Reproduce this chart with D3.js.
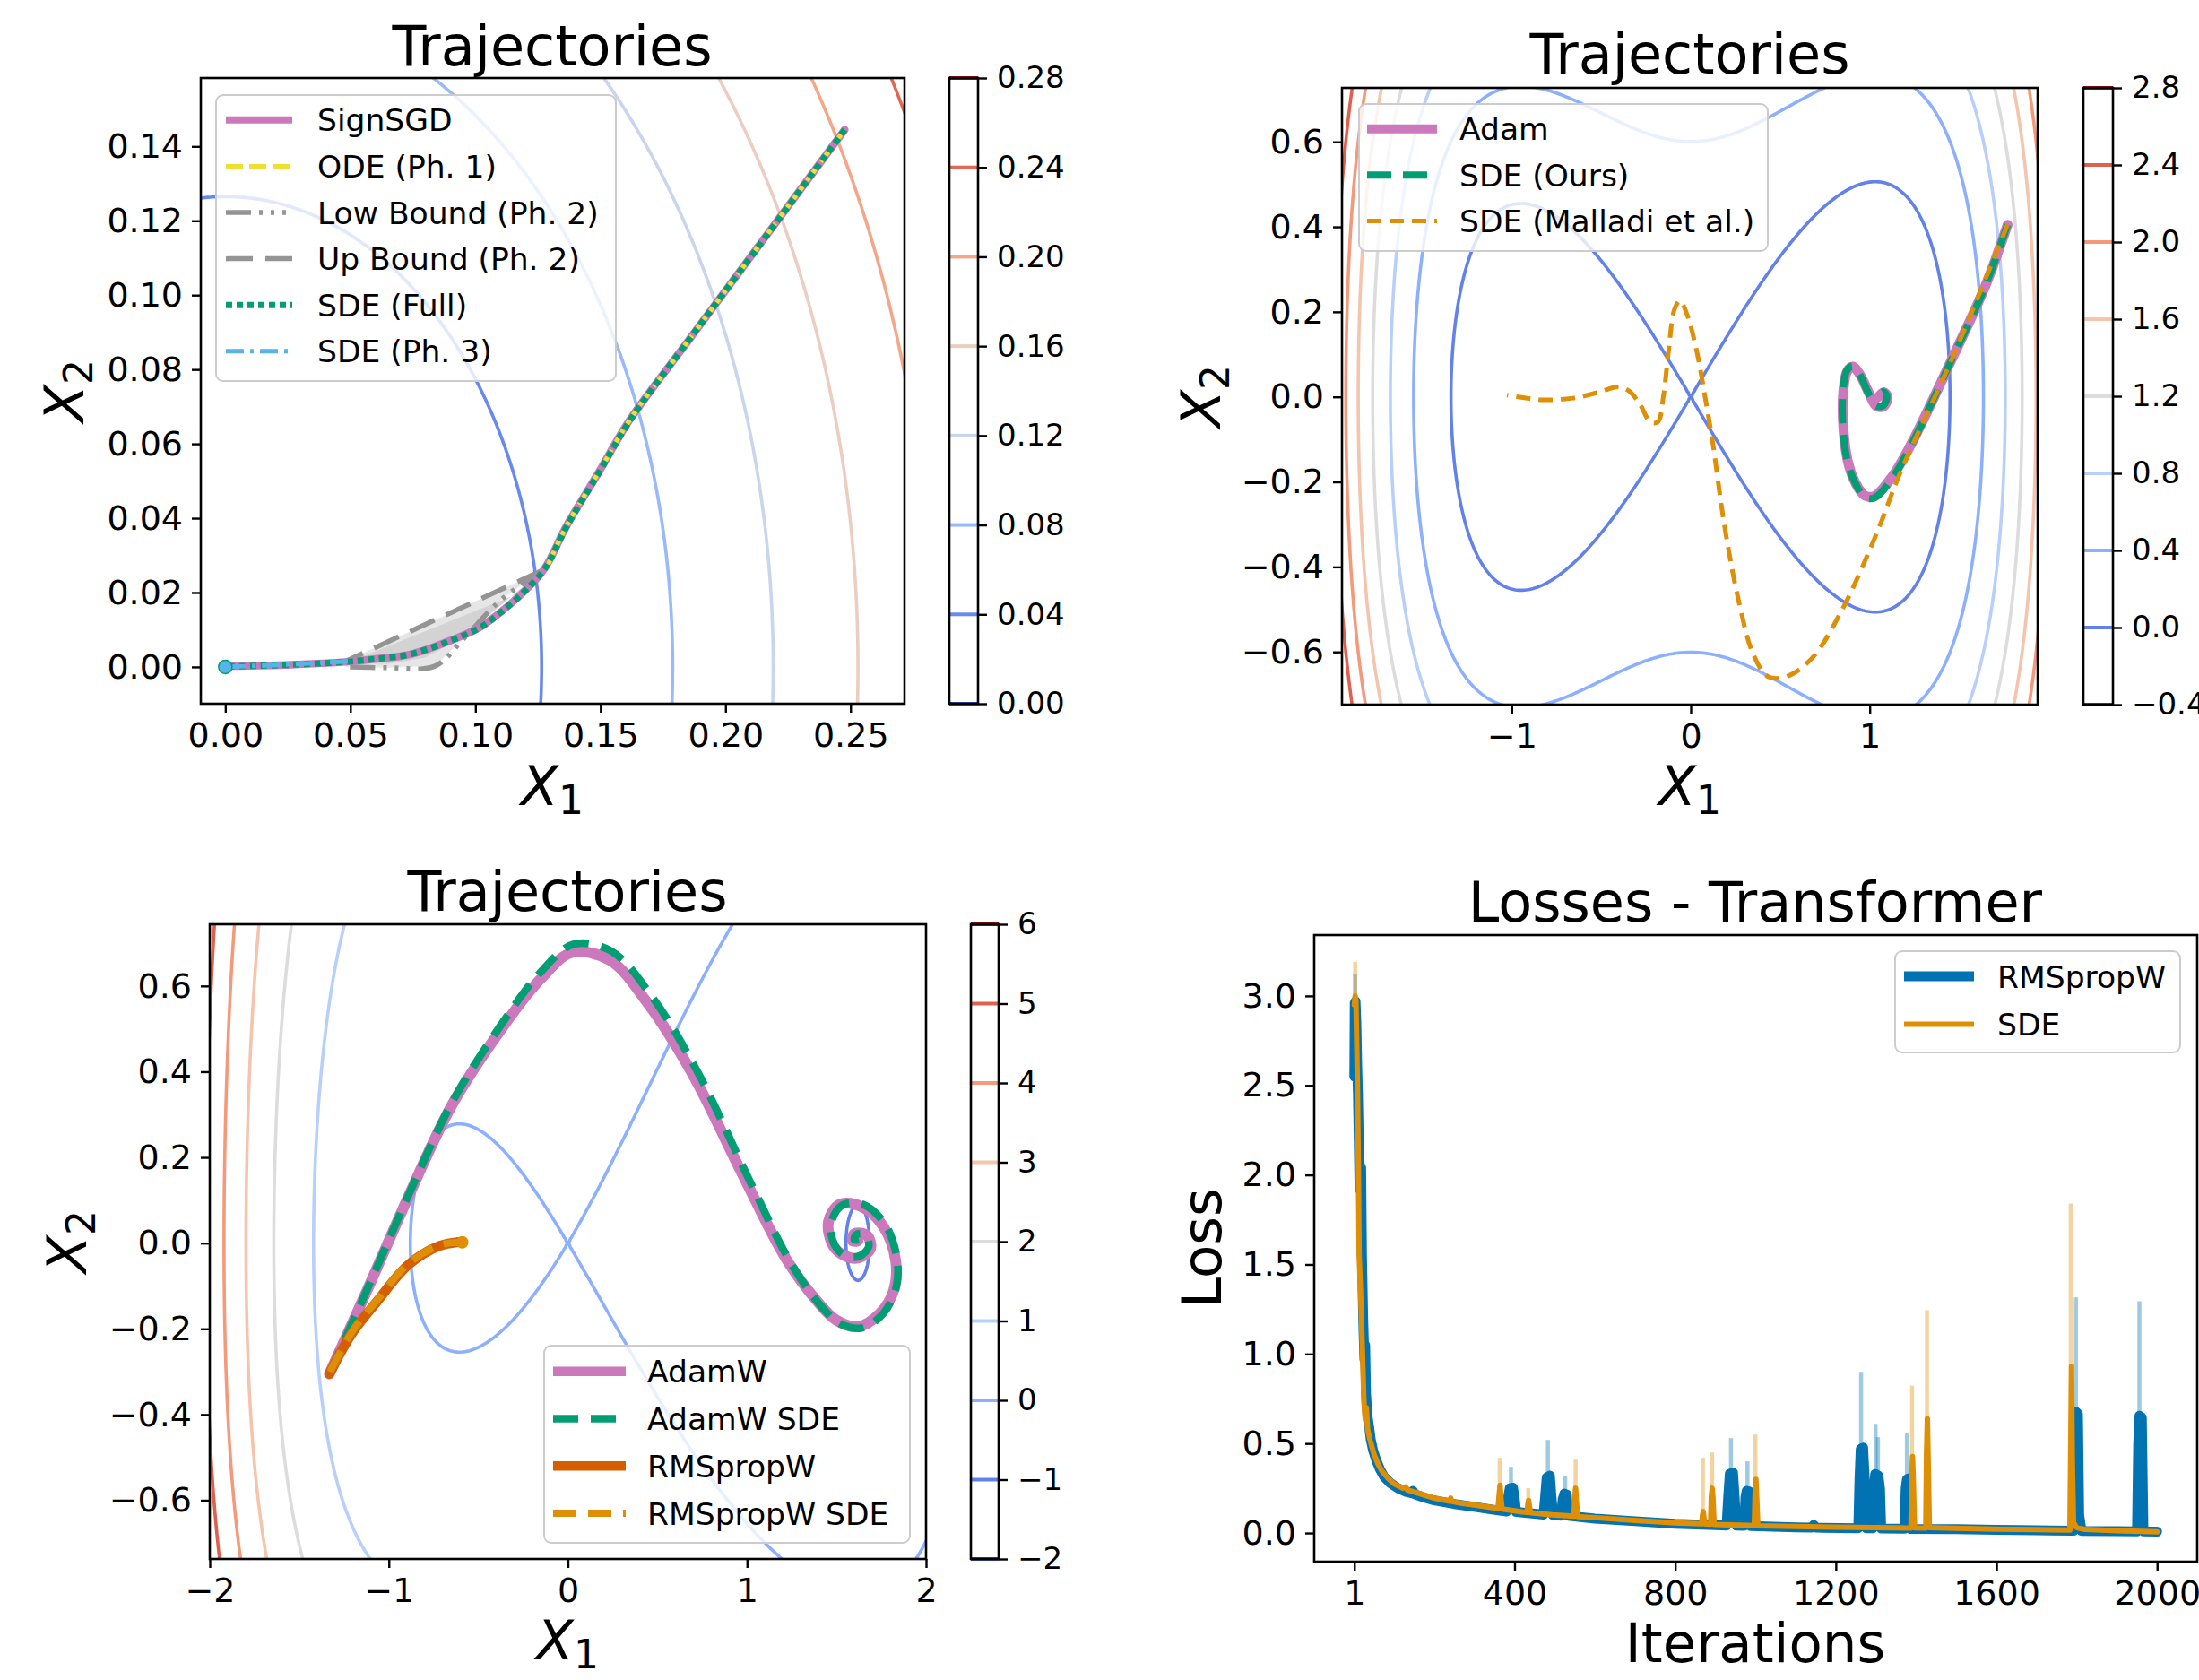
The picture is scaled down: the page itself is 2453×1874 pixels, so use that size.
<!DOCTYPE html>
<html>
<head>
<meta charset="utf-8">
<script src="https://cdn.jsdelivr.net/npm/d3@7"></script>
<style>
  body { margin: 0; background: #fff; }
  text { font-family: "DejaVu Sans", sans-serif; }
</style>
</head>
<body>
<svg id="fig" width="2453" height="1874"></svg>
<script>
// ---------------- data ----------------
// coolwarm colormap anchors (t = 0, .125, ..., 1)
const coolwarmStops = ["#3b4cc0", "#6282ea", "#8db0fe", "#b8d0f9", "#dddcdc", "#f5c4ad", "#f49a7b", "#de604d", "#b40426"];

// panel 1 - SignSGD
const p1Levels = [0.00, 0.04, 0.08, 0.12, 0.16, 0.20, 0.24, 0.28];
const p1XTicks = [0, 0.05, 0.10, 0.15, 0.20, 0.25];
const p1YTicks = [0, 0.02, 0.04, 0.06, 0.08, 0.10, 0.12, 0.14];
const p1Labels = ["SignSGD", "ODE (Ph. 1)", "Low Bound (Ph. 2)", "Up Bound (Ph. 2)", "SDE (Full)", "SDE (Ph. 3)"];
const signSgd = [[0.2477,0.1445],[0.2150,0.1148],[0.1850,0.0876],[0.1616,0.0663],[0.1490,0.0520],[0.1365,0.0380],[0.1277,0.0265],[0.1195,0.0203],[0.1100,0.0147],[0.1016,0.0106],[0.0896,0.0070],[0.0741,0.0034],[0.0610,0.0022],[0.0490,0.0014],[0.0264,0.0006],[0.0001,0.0002]];
const odePh1 = [[0.2477,0.1445],[0.2150,0.1148],[0.1850,0.0876],[0.1616,0.0663],[0.1490,0.0520],[0.1365,0.0380],[0.1282,0.0262]];
const lowBound = [[0.1266,0.0259],[0.1100,0.0179],[0.0956,0.0078],[0.0837,0.0002],[0.0650,-0.0002],[0.0478,0.0000]];
const upBound = [[0.1266,0.0259],[0.0490,0.0018]];
const innerBand = [[0.0490,0.0012],[0.1200,0.0205],[0.1266,0.0259],[0.1100,0.0165],[0.0950,0.0080],[0.0800,0.0025],[0.0650,0.0008],[0.0490,0.0008]];
const sdeFull = [[0.2477,0.1445],[0.2152,0.1149],[0.1851,0.0877],[0.1617,0.0662],[0.1491,0.0519],[0.1366,0.0379],[0.1276,0.0263],[0.1193,0.0201],[0.1098,0.0145],[0.1014,0.0104],[0.0894,0.0069],[0.0739,0.0034],[0.0608,0.0022],[0.0488,0.0014],[0.0262,0.0006],[0.0001,0.0001]];
const sdePh3 = [[0.0490,0.0015],[0.0320,0.0009],[0.0160,0.0004],[0.0000,0.0000]];

// panel 2 - Adam
const p2Levels = [-0.4, 0.0, 0.4, 0.8, 1.2, 1.6, 2.0, 2.4, 2.8];
const p2XTicks = [-1, 0, 1];
const p2YTicks = [-0.6, -0.4, -0.2, 0, 0.2, 0.4, 0.6];
const p2Labels = ["Adam", "SDE (Ours)", "SDE (Malladi et al.)"];
const adam = [[1.770,0.405],[1.644,0.259],[1.459,0.089],[1.233,-0.110],[1.131,-0.184],[1.028,-0.233],[0.977,-0.233],[0.936,-0.214],[0.884,-0.162],[0.853,-0.074],[0.853,0.015],[0.874,0.060],[0.905,0.071],[0.946,0.052],[0.997,0.008],[1.038,-0.022],[1.079,-0.022],[1.100,0.000],[1.079,0.011],[1.049,0.000]];
const sdeOurs = [[1.770,0.405],[1.640,0.255],[1.455,0.085],[1.230,-0.115],[1.128,-0.190],[1.025,-0.238],[0.972,-0.236],[0.930,-0.212],[0.880,-0.160],[0.850,-0.072],[0.851,0.017],[0.872,0.062],[0.904,0.072],[0.947,0.050],[0.995,0.006],[1.036,-0.021],[1.076,-0.020],[1.095,0.002],[1.075,0.012],[1.045,0.002]];
const malladi = [[1.770,0.405],[1.459,0.089],[1.172,-0.177],[1.028,-0.332],[0.843,-0.503],[0.679,-0.614],[0.535,-0.658],[0.432,-0.658],[0.350,-0.606],[0.268,-0.480],[0.186,-0.296],[0.124,-0.110],[0.083,-0.007],[0.032,0.111],[-0.020,0.193],[-0.060,0.226],[-0.090,0.207],[-0.123,0.111],[-0.153,0.000],[-0.184,-0.059],[-0.225,-0.059],[-0.287,-0.015],[-0.348,0.015],[-0.410,0.023],[-0.513,0.011],[-0.657,-0.003],[-0.821,-0.007],[-0.965,0.000],[-1.026,0.004]];

// panel 3 - AdamW / RMSpropW
const p3Levels = [-2, -1, 0, 1, 2, 3, 4, 5, 6];
const p3XTicks = [-2, -1, 0, 1, 2];
const p3YTicks = [-0.6, -0.4, -0.2, 0, 0.2, 0.4, 0.6];
const p3Labels = ["AdamW", "AdamW SDE", "RMSpropW", "RMSpropW SDE"];
const adamW = [[-1.332,-0.305],[-1.100,-0.090],[-0.873,0.125],[-0.645,0.324],[-0.364,0.504],[-0.153,0.616],[0.023,0.678],[0.234,0.660],[0.445,0.560],[0.691,0.398],[0.973,0.162],[1.219,-0.037],[1.395,-0.137],[1.500,-0.180],[1.620,-0.195],[1.740,-0.165],[1.820,-0.110],[1.830,-0.040],[1.760,0.040],[1.640,0.085],[1.520,0.091],[1.455,0.050],[1.480,-0.005],[1.540,-0.028],[1.620,-0.035],[1.690,-0.013],[1.670,0.018],[1.600,0.022],[1.590,0.005],[1.620,0.005]];
const adamWSde = [[-1.332,-0.305],[-1.100,-0.088],[-0.873,0.128],[-0.645,0.330],[-0.364,0.515],[-0.153,0.632],[0.030,0.697],[0.240,0.682],[0.470,0.575],[0.730,0.395],[1.010,0.150],[1.250,-0.050],[1.420,-0.150],[1.520,-0.188],[1.640,-0.198],[1.760,-0.165],[1.835,-0.100],[1.835,-0.030],[1.770,0.045],[1.650,0.090],[1.530,0.088],[1.470,0.045],[1.490,-0.005],[1.550,-0.030],[1.630,-0.030],[1.680,-0.008],[1.660,0.020],[1.610,0.020],[1.600,0.008],[1.625,0.008]];
const rmspropW = [[-1.332,-0.305],[-1.208,-0.212],[-1.068,-0.137],[-0.890,-0.050],[-0.716,-0.006],[-0.593,0.003]];
const rmspropWSde = [[-1.328,-0.300],[-1.204,-0.206],[-1.064,-0.132],[-0.886,-0.046],[-0.712,-0.004],[-0.590,0.002]];

// panel 4 - Transformer losses
const p4XTicks = [1, 400, 800, 1200, 1600, 2000];
const p4YTicks = [0, 0.5, 1.0, 1.5, 2.0, 2.5, 3.0];
const p4Labels = ["RMSpropW", "SDE"];
const rmsLoss = [[1,2.55],[2,2.96],[4,2.97],[6,2.85],[8,2.62],[10,2.45],[12,2.2],[14,1.92],[16,2.05],[18,2.04],[20,1.55],[23,1.2],[26,0.97],[28,1.05],[30,0.78],[34,0.65],[38,0.59],[42,0.52],[48,0.46],[55,0.41],[65,0.355],[75,0.315],[90,0.28],[110,0.25],[130,0.23],[144,0.222],[147,0.235],[150,0.218],[175,0.198],[200,0.182],[250,0.162],[300,0.146],[340,0.132],[380,0.12],[384,0.2],[388,0.25],[396,0.253],[400,0.2],[404,0.118],[472,0.103],[476,0.2],[480,0.31],[488,0.32],[492,0.2],[496,0.1],[516,0.097],[520,0.19],[524,0.22],[530,0.215],[534,0.096],[600,0.08],[700,0.066],[800,0.052],[900,0.044],[928,0.042],[932,0.2],[936,0.33],[944,0.338],[948,0.2],[952,0.041],[972,0.04],[975,0.2],[978,0.235],[984,0.232],[988,0.039],[1100,0.032],[1140,0.03],[1145,0.045],[1150,0.03],[1256,0.027],[1259,0.3],[1262,0.47],[1268,0.477],[1272,0.3],[1276,0.026],[1292,0.026],[1295,0.25],[1298,0.33],[1306,0.32],[1310,0.25],[1313,0.025],[1371,0.024],[1374,0.25],[1377,0.3],[1382,0.305],[1386,0.023],[1500,0.021],[1600,0.018],[1700,0.015],[1792,0.013],[1795,0.5],[1798,0.677],[1803,0.665],[1806,0.1],[1812,0.012],[1900,0.01],[1950,0.009],[1953,0.5],[1956,0.655],[1962,0.645],[1966,0.009],[2000,0.008]];
const sdeLoss = [[1,2.95],[3,3.0],[5,2.97],[7,2.72],[9,2.45],[11,2.05],[13,1.55],[16,1.38],[19,1.18],[22,0.95],[25,0.73],[28,0.64],[31,0.7],[34,0.58],[40,0.52],[50,0.44],[60,0.385],[70,0.345],[85,0.305],[100,0.275],[122,0.25],[128,0.258],[134,0.24],[160,0.222],[196,0.197],[238,0.178],[241,0.195],[244,0.176],[270,0.165],[300,0.157],[345,0.142],[359,0.137],[361,0.2],[364,0.267],[366,0.2],[369,0.134],[419,0.118],[431,0.115],[433,0.16],[435,0.182],[437,0.15],[440,0.113],[494,0.102],[548,0.094],[550,0.2],[552,0.25],[554,0.18],[557,0.092],[600,0.086],[700,0.07],[800,0.057],[866,0.051],[868,0.1],[870,0.12],[872,0.08],[875,0.05],[888,0.049],[890,0.2],[892,0.25],[894,0.2],[897,0.048],[941,0.045],[997,0.041],[999,0.22],[1001,0.3],[1003,0.2],[1006,0.04],[1100,0.036],[1200,0.033],[1300,0.03],[1387,0.028],[1389,0.3],[1391,0.427],[1393,0.3],[1396,0.029],[1424,0.028],[1426,0.45],[1428,0.639],[1430,0.4],[1433,0.03],[1500,0.026],[1600,0.022],[1700,0.019],[1783,0.017],[1785,0.5],[1787,0.932],[1789,0.4],[1792,0.06],[1800,0.03],[1820,0.02],[1900,0.013],[2000,0.006]];
// faint spread of the runs: [iteration, low, high]
const rmsSpread = [[3,2.5,3.12],[391,0.12,0.37],[483,0.10,0.52],[526,0.10,0.32],[939,0.05,0.53],[980,0.05,0.40],[1263,0.03,0.90],[1299,0.03,0.61],[1305,0.03,0.535],[1377,0.03,0.56],[1798,0.015,1.316],[1956,0.01,1.295]];
const sdeSpread = [[3,2.5,3.19],[130,0.24,0.27],[240,0.17,0.20],[363,0.13,0.42],[434,0.11,0.25],[552,0.09,0.41],[869,0.05,0.42],[892,0.049,0.45],[1000,0.04,0.55],[1390,0.028,0.823],[1427,0.028,1.245],[1785,0.017,1.84]];

// loss landscapes behind the trajectories
const loss1 = (x, y) => 2.5 * (x * x + y * y);
const loss2 = (x, y) => x ** 4 / 4 - 0.029 * x ** 3 - x * x / 2 + 0.004 * x ** 6 + y * y + 0.3 * y ** 4;
const loss3 = (x, y) => 0.251 * x * x * (x + 0.88) * (x - 2.232) + y * y - 0.35 * y ** 3 + 0.3 * y ** 4;

// colors (seaborn colorblind)
const C = { blue: "#0173b2", orange: "#de8f05", green: "#029e73", red: "#d55e00", pink: "#cc78bc", grey: "#949494", yellow: "#ece133", sky: "#56b4e9" };

// ---------------- helpers ----------------
const svg = d3.select("#fig");
const coolwarm = d3.scaleLinear().domain(d3.range(9).map(i => i / 8)).range(coolwarmStops).interpolate(d3.interpolateRgb);

function makePanel(id, box, xDom, yDom) {
    const [left, top, right, bottom] = box;
    const x = d3.scaleLinear().domain(xDom).range([left, right]);
    const y = d3.scaleLinear().domain(yDom).range([bottom, top]);
    svg.append("clipPath").attr("id", "clip" + id).append("rect")
        .attr("x", left).attr("y", top).attr("width", right - left).attr("height", bottom - top);
    const g = svg.append("g");
    const plot = g.append("g").attr("clip-path", `url(#clip${id})`);
    return { g, plot, x, y, left, top, right, bottom };
}

function levelColor(levels) {
    const lo = levels[0], hi = levels[levels.length - 1];
    return v => coolwarm((v - lo) / (hi - lo));
}

function drawContours(p, f, levels, ext) {
    const { x0, x1, y0, y1, n, m } = ext;
    const sx = (x1 - x0) / (n - 1), sy = (y1 - y0) / (m - 1);
    const values = new Float64Array(n * m);
    for (let j = 0; j < m; j++)
        for (let i = 0; i < n; i++) values[i + j * n] = f(x0 + i * sx, y0 + j * sy);
    const color = levelColor(levels);
    const line = d3.line();
    d3.contours().size([n, m]).thresholds(levels)(values).forEach(c => {
        const d = c.coordinates.map(poly => poly.map(ring =>
            line(ring.map(([a, b]) => [p.x(x0 + (a - 0.5) * sx), p.y(y0 + (b - 0.5) * sy)]))).join("")).join("");
        if (!d) return;
        p.plot.append("path").attr("d", d).attr("fill", "none")
            .attr("stroke", color(c.value)).attr("stroke-width", 3.6);
    });
}

function trace(p, pts, color, width, dash, curve) {
    const line = d3.line().x(d => p.x(d[0])).y(d => p.y(d[1])).curve(curve || d3.curveCatmullRom.alpha(0.5));
    return p.plot.append("path").datum(pts).attr("d", line).attr("fill", "none")
        .attr("stroke", color).attr("stroke-width", width)
        .attr("stroke-dasharray", dash || null)
        .attr("stroke-linejoin", "round").attr("stroke-linecap", dash ? "butt" : "round");
}

function area(p, pts, color) {
    p.plot.append("path").attr("d", d3.line().x(d => p.x(d[0])).y(d => p.y(d[1]))(pts) + "Z")
        .attr("fill", color).attr("stroke", "none");
}

function frameAndAxes(p, xTicks, yTicks, xFmt, yFmt) {
    p.g.append("rect").attr("x", p.left).attr("y", p.top)
        .attr("width", p.right - p.left).attr("height", p.bottom - p.top)
        .attr("fill", "none").attr("stroke", "#000").attr("stroke-width", 2.6);
    const ax = p.g.append("g").attr("transform", `translate(0,${p.bottom})`)
        .call(d3.axisBottom(p.x).tickValues(xTicks).tickFormat(xFmt).tickSize(10).tickPadding(11));
    const ay = p.g.append("g").attr("transform", `translate(${p.left},0)`)
        .call(d3.axisLeft(p.y).tickValues(yTicks).tickFormat(yFmt).tickSize(10).tickPadding(10));
    [ax, ay].forEach(a => {
        a.select(".domain").remove();
        a.selectAll("line").attr("stroke", "#000").attr("stroke-width", 2.4);
        a.selectAll("text").attr("font-size", 38).attr("fill", "#000").attr("font-family", "DejaVu Sans");
    });
}

function colorbar(x0, x1, top, bottom, levels, fmt) {
    const s = d3.scaleLinear().domain([levels[0], levels[levels.length - 1]]).range([bottom, top]);
    const color = levelColor(levels);
    const g = svg.append("g");
    g.append("rect").attr("x", x0).attr("y", top).attr("width", x1 - x0).attr("height", bottom - top).attr("fill", "#fff");
    g.selectAll("line.lv").data(levels).join("line").attr("class", "lv")
        .attr("x1", x0).attr("x2", x1).attr("y1", d => s(d)).attr("y2", d => s(d))
        .attr("stroke", d => color(d)).attr("stroke-width", 4);
    g.append("rect").attr("x", x0).attr("y", top).attr("width", x1 - x0).attr("height", bottom - top)
        .attr("fill", "none").attr("stroke", "#000").attr("stroke-width", 2.6);
    const ax = g.append("g").attr("transform", `translate(${x1},0)`)
        .call(d3.axisRight(s).tickValues(levels).tickFormat(fmt).tickSize(10).tickPadding(11));
    ax.select(".domain").remove();
    ax.selectAll("line").attr("stroke", "#000").attr("stroke-width", 2.4);
    ax.selectAll("text").attr("font-size", 34).attr("fill", "#000").attr("font-family", "DejaVu Sans");
}

function title(x, y, txt) {
    svg.append("text").attr("x", x).attr("y", y).attr("text-anchor", "middle")
        .attr("font-size", 62).text(txt);
}

function mathLabel(x, y, sub, rotate) {
    const t = svg.append("text").attr("font-size", 61).attr("text-anchor", "middle")
        .attr("transform", `translate(${x},${y})` + (rotate ? " rotate(-90)" : ""));
    t.append("tspan").attr("font-style", "italic").text("X");
    t.append("tspan").attr("font-size", 44).attr("dy", 10).text(sub);
}

function legend(box, firstY, step, hx, tx, entries) {
    const [x0, y0, x1, y1] = box;
    const g = svg.append("g");
    g.append("rect").attr("x", x0).attr("y", y0).attr("width", x1 - x0).attr("height", y1 - y0)
        .attr("rx", 8).attr("fill", "#fff").attr("fill-opacity", 0.8)
        .attr("stroke", "#cccccc").attr("stroke-width", 2);
    entries.forEach((e, i) => {
        const cy = firstY + i * step;
        g.append("line").attr("x1", hx[0]).attr("x2", hx[1]).attr("y1", cy).attr("y2", cy)
            .attr("stroke", e.color).attr("stroke-width", e.width)
            .attr("stroke-dasharray", e.dash || null).attr("stroke-linecap", "butt");
        g.append("text").attr("x", tx).attr("y", cy + 12.5).attr("font-size", 34.5).text(e.label);
    });
}

const f2 = d3.format(".2f"), f1 = d3.format(".1f"), fd = d3.format("d");

// ---------------- panel 1 ----------------
const P1 = makePanel(1, [224, 87, 1009, 785], [-0.0098, 0.2716], [-0.0099, 0.1584]);
drawContours(P1, loss1, p1Levels, { x0: -0.03, x1: 0.30, y0: -0.03, y1: 0.18, n: 331, m: 211 });
area(P1, upBound.concat(lowBound.slice().reverse()), "#e6e6e6");
area(P1, innerBand, "#d3d3d3");
trace(P1, upBound, C.grey, 5.5, "30,14", d3.curveLinear);
trace(P1, lowBound, C.grey, 5.5, "28,9,4,9,4,9,4,9");
trace(P1, signSgd, C.pink, 8.5);
trace(P1, odePh1, C.yellow, 5, "19,7");
trace(P1, sdeFull, C.green, 7, "7,5");
trace(P1, sdePh3, C.sky, 5, "20,7,4,7");
P1.plot.append("circle").attr("cx", P1.x(sdePh3[sdePh3.length - 1][0])).attr("cy", P1.y(sdePh3[sdePh3.length - 1][1]))
    .attr("r", 7.5).attr("fill", C.sky).attr("stroke", C.green).attr("stroke-width", 1.5);
frameAndAxes(P1, p1XTicks, p1YTicks, f2, f2);
colorbar(1059, 1091, 87, 785, p1Levels, f2);
title(616, 73, "Trajectories");
mathLabel(616, 898, "1", false);
mathLabel(93, 436, "2", true);
legend([241, 106, 687, 425], 133.8, 51.6, [252, 326], 354, [
    { label: p1Labels[0], color: C.pink, width: 8 },
    { label: p1Labels[1], color: C.yellow, width: 5, dash: "19,7" },
    { label: p1Labels[2], color: C.grey, width: 5.5, dash: "28,9,4,9,4,9,4,9" },
    { label: p1Labels[3], color: C.grey, width: 5.5, dash: "30,14" },
    { label: p1Labels[4], color: C.green, width: 7, dash: "7,5" },
    { label: p1Labels[5], color: C.sky, width: 5, dash: "20,7,4,7" }
]);

// ---------------- panel 2 ----------------
const P2 = makePanel(2, [1497, 98, 2273, 786], [-1.948, 1.938], [-0.724, 0.727]);
drawContours(P2, loss2, p2Levels, { x0: -2.05, x1: 2.05, y0: -0.80, y1: 0.80, n: 411, m: 161 });
trace(P2, adam, C.pink, 11);
trace(P2, sdeOurs, C.green, 8, "27,13");
trace(P2, malladi, C.orange, 5, "16,9");
frameAndAxes(P2, p2XTicks, p2YTicks, fd, f1);
colorbar(2324, 2357, 98, 786, p2Levels, f1);
title(1885, 82, "Trajectories");
mathLabel(1885, 898, "1", false);
mathLabel(1361, 442, "2", true);
legend([1516, 116, 1972, 280], 143.8, 51.4, [1525, 1603], 1628, [
    { label: p2Labels[0], color: C.pink, width: 10 },
    { label: p2Labels[1], color: C.green, width: 8, dash: "27,13" },
    { label: p2Labels[2], color: C.orange, width: 5, dash: "16,9" }
]);

// ---------------- panel 3 ----------------
const P3 = makePanel(3, [234, 1031, 1033, 1739], [-2, 2], [-0.737, 0.744]);
drawContours(P3, loss3, p3Levels, { x0: -2.1, x1: 2.1, y0: -0.82, y1: 0.82, n: 421, m: 165 });
trace(P3, adamW, C.pink, 12);
trace(P3, adamWSde, C.green, 8.5, "28,14");
trace(P3, rmspropW, C.red, 11);
trace(P3, rmspropWSde, C.orange, 8, "26,13");
P3.plot.append("circle").attr("cx", P3.x(rmspropWSde[rmspropWSde.length - 1][0])).attr("cy", P3.y(rmspropWSde[rmspropWSde.length - 1][1]))
    .attr("r", 7).attr("fill", C.orange);
frameAndAxes(P3, p3XTicks, p3YTicks, fd, f1);
colorbar(1083, 1114, 1031, 1739, p3Levels, fd);
title(633, 1016, "Trajectories");
mathLabel(633, 1851, "1", false);
mathLabel(96, 1385, "2", true);
legend([607, 1501, 1015, 1721], 1529.7, 52.8, [617, 698], 722, [
    { label: p3Labels[0], color: C.pink, width: 10.5 },
    { label: p3Labels[1], color: C.green, width: 8.5, dash: "28,14" },
    { label: p3Labels[2], color: C.red, width: 10.5 },
    { label: p3Labels[3], color: C.orange, width: 8, dash: "26,13" }
]);

// ---------------- panel 4 ----------------
const P4 = makePanel(4, [1466, 1043, 2451, 1742], [-98.95, 2099.95], [-0.16, 3.34]);
P4.plot.selectAll("line.rs").data(rmsSpread).join("line").attr("class", "rs")
    .attr("x1", d => P4.x(d[0])).attr("x2", d => P4.x(d[0]))
    .attr("y1", d => P4.y(d[1])).attr("y2", d => P4.y(d[2]))
    .attr("stroke", C.blue).attr("stroke-opacity", 0.38).attr("stroke-width", 4.5);
P4.plot.selectAll("line.ss").data(sdeSpread).join("line").attr("class", "ss")
    .attr("x1", d => P4.x(d[0])).attr("x2", d => P4.x(d[0]))
    .attr("y1", d => P4.y(d[1])).attr("y2", d => P4.y(d[2]))
    .attr("stroke", C.orange).attr("stroke-opacity", 0.38).attr("stroke-width", 4.5);
trace(P4, rmsLoss, C.blue, 11, null, d3.curveLinear);
trace(P4, sdeLoss, C.orange, 6, null, d3.curveLinear);
frameAndAxes(P4, p4XTicks, p4YTicks, fd, f1);
title(1958, 1028, "Losses - Transformer");
svg.append("text").attr("x", 1958).attr("y", 1854).attr("text-anchor", "middle").attr("font-size", 61).text("Iterations");
svg.append("text").attr("transform", "translate(1362,1392) rotate(-90)").attr("text-anchor", "middle").attr("font-size", 61).text("Loss");
legend([2114, 1061, 2432, 1174], 1089, 53.5, [2124, 2202], 2228, [
    { label: p4Labels[0], color: C.blue, width: 11 },
    { label: p4Labels[1], color: C.orange, width: 6 }
]);
</script>
</body>
</html>
